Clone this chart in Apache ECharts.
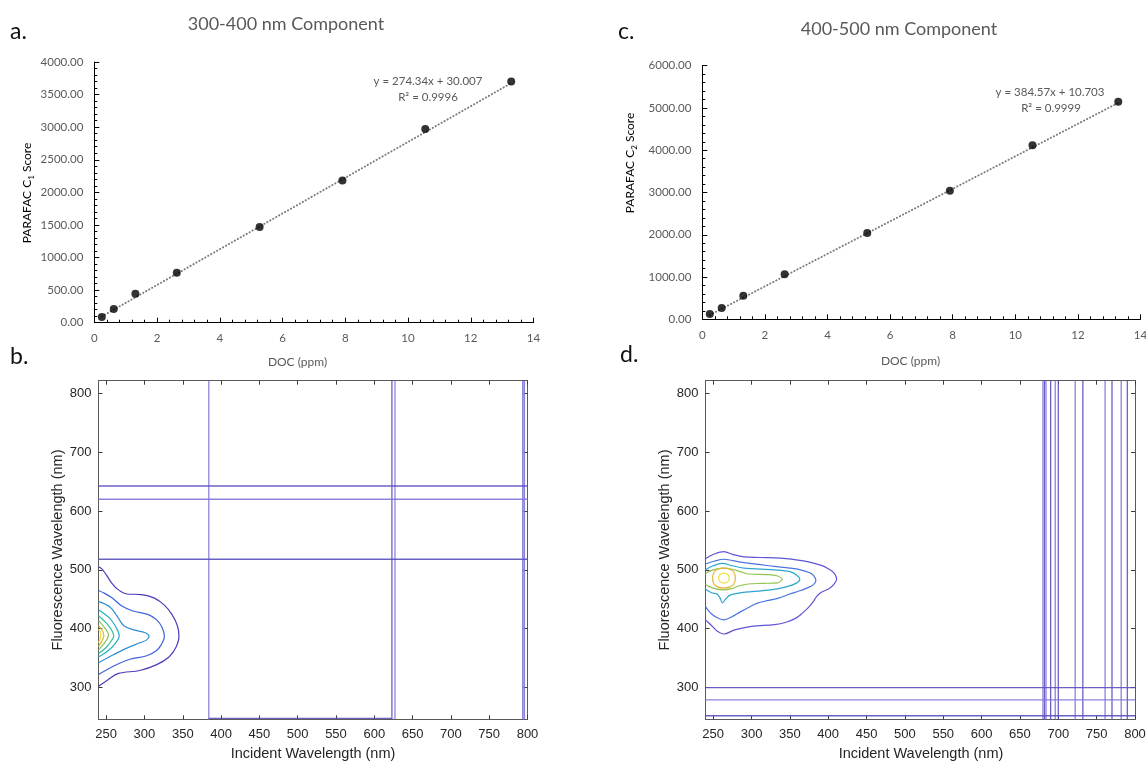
<!DOCTYPE html>
<html>
<head>
<meta charset="utf-8">
<script src="https://cdn.jsdelivr.net/npm/echarts@6/dist/echarts.min.js"></script>
<style>
  html, body { margin: 0; padding: 0; background: #fff; }
  #chart { width: 1146px; height: 762px; }
</style>
</head>
<body>
<div id="chart"></div>
<script>
// ---------- a / c : PARAFAC score vs DOC ----------
const docPpm   = [0.24, 0.62, 1.31, 2.63, 5.27, 7.91, 10.55, 13.29];
const scoreC1  = [87, 210, 445, 767, 1468, 2180, 2972, 3700];
const scoreC2  = [125, 267, 558, 1064, 2041, 3042, 4117, 5149];
const fitC1    = [274.34, 30.007];   // slope, intercept
const fitC2    = [384.57, 10.703];

// ---------- b / d : excitation-emission contour maps ----------
const exTicks = [250, 300, 350, 400, 450, 500, 550, 600, 650, 700, 750, 800];
const emTicks = [300, 400, 500, 600, 700, 800];
const exRange = [240, 800];
const emRange = [246, 821.5];

// 300-400 nm component, outer level first
const contourB = [
  [[240,302],[252,313],[266,324],[294,329],[316,339],[332,352],[341,368],[345,387],[343,405],[336,424],[326,440],[313,452],[296,458],[277,459],[266,466],[257,478],[250,492],[244,502],[240,505]],
  [[240,322],[264,339],[281,348],[303,354],[315,362],[322,373],[326,387],[323,402],[316,415],[305,424],[285,430],[270,439],[258,452],[248,460],[240,465]],
  [[240,342],[260,356],[277,367],[294,376],[303,381],[306,387],[301,393],[286,398],[273,405],[265,420],[255,437],[240,446]],
  [[240,352],[252,362],[262,375],[267,388],[263,402],[255,417],[240,432]],
  [[240,358],[250,368],[257,380],[260,388],[257,398],[250,410],[240,422]],
  [[240,364],[247,374],[252,384],[253,390],[249,400],[244,408],[240,414]],
  [[240,370],[244,378],[247,388],[245,397],[240,405]],
  [[240,376],[242,383],[243,390],[242,395],[240,399]]
];
const bVert  = [384, 623, 627, 794, 796];
const bHoriz = [642.5, 620, 518];
const bFloor = [[384, 247.5], [623, 247.5]];

// 400-500 nm component, outer level first
const contourD = [
  [[240,519],[250,526],[264,531],[276,526],[290,522],[310,521],[338,520],[358,517],[373,514],[390,508],[400,502],[408,494],[411,484],[407,475],[401,468],[391,462],[385,455],[380,445],[375,437],[366,426],[358,418],[345,411],[330,407],[300,404],[278,398],[264,391],[255,396],[249,404],[244,410],[240,415]],
  [[240,510],[252,515],[264,518],[286,513],[329,506],[350,503],[364,500],[376,495],[381,490],[384,482],[380,474],[372,469],[362,464],[350,459],[335,452],[322,448],[307,443],[296,436],[286,429],[274,420],[264,415],[255,419],[248,425],[243,432],[240,438]],
  [[240,500],[250,507],[262,511],[275,507],[290,503],[329,500],[350,497],[359,491],[363,484],[358,477],[345,471],[325,466],[300,463],[285,461],[272,457],[266,450],[262,444],[259,452],[255,459],[248,461],[240,467]],
  [[240,494],[250,500],[262,503],[275,501],[285,497],[296,493],[320,492],[333,490],[340,484],[334,478],[315,477],[296,476],[284,473],[274,468],[263,466],[252,468],[244,472],[240,475]],
  [[249,486],[251,496],[256,501],[264,503],[272,501],[277,496],[279,486],[277,476],[272,471],[264,469],[256,471],[251,476],[249,486]],
  [[257,486],[259,492],[264,494.5],[269,492],[271,486],[269,480],[264,477.5],[259,480],[257,486]]
];
const dVert  = [680, 682, 684, 690, 696, 700, 722, 732, 761, 770, 782, 790];
const dHoriz = [300, 279, 252];

// ---------- styles ----------
const excelFont = 'Lato, "Open Sans", sans-serif';
const matFont = '"Liberation Sans", Arial, sans-serif';
const grey = '#595959';
const ink = '#262626';
const parulaB = ['#4b3db8', '#3e62dc', '#2f8ed6', '#1daec8', '#2fbe9c', '#86c45a', '#d8be3a', '#f6dc36'];
const parulaD = ['#5f55d4', '#4a74de', '#2aa6cc', '#93c352', '#e6b63c', '#f1e13c'];
const artifact = ['#7f76da', '#5a50bf'];

const chart = echarts.init(document.getElementById('chart'));

const grid = [
  { left: 94.3, top: 62, width: 439.2, height: 260.7 },     // a
  { left: 98.5, top: 380.7, width: 429, height: 338.6 },    // b
  { left: 702.3, top: 65.7, width: 438.2, height: 253.6 },  // c
  { left: 705.5, top: 380.7, width: 429.5, height: 338.6 }  // d
].map(g => Object.assign({ outerBoundsMode: 'none', containLabel: false }, g));

function excelX(gridIndex) {
  return {
    type: 'value', gridIndex, min: 0, max: 14, interval: 2,
    axisLine: { show: true, onZero: false, lineStyle: { color: '#000', width: 1 } },
    axisTick: { show: true, inside: true, length: 5, lineStyle: { color: '#000' } },
    minorTick: { show: true, splitNumber: 5, length: 3, lineStyle: { color: '#000' } },
    splitLine: { show: false },
    axisLabel: { color: grey, fontFamily: excelFont, fontSize: 11.5, margin: 10 }
  };
}

function excelY(gridIndex, max, interval) {
  return {
    type: 'value', gridIndex, min: 0, max, interval,
    axisLine: { show: true, onZero: false, lineStyle: { color: '#000', width: 1 } },
    axisTick: { show: true, inside: true, length: 5, lineStyle: { color: '#000' } },
    minorTick: { show: true, splitNumber: 5, length: 3, lineStyle: { color: '#000' } },
    splitLine: { show: false },
    axisLabel: { formatter: v => v.toFixed(2), color: grey, fontFamily: excelFont, fontSize: 11.5, margin: 11 }
  };
}

function matAxis(kind, gridIndex, position, range, ticks) {
  const labelled = position === 'bottom' || position === 'left';
  return {
    type: 'value', gridIndex, position, min: range[0], max: range[1],
    axisLine: { show: true, onZero: false, lineStyle: { color: '#5a5a5a', width: 1 } },
    axisTick: { show: true, inside: true, length: 4, customValues: ticks, lineStyle: { color: '#3a3a3a' } },
    axisLabel: {
      show: labelled, customValues: ticks, color: ink, fontFamily: matFont, fontSize: 13,
      margin: kind === 'x' ? 9 : 7
    },
    splitLine: { show: false }
  };
}

const xAxis = [
  excelX(0),                                        // 0 a
  excelX(2),                                        // 1 c
  matAxis('x', 1, 'bottom', exRange, exTicks),      // 2 b
  matAxis('x', 1, 'top', exRange, exTicks),         // 3 b top
  matAxis('x', 3, 'bottom', exRange, exTicks),      // 4 d
  matAxis('x', 3, 'top', exRange, exTicks)          // 5 d top
];
const yAxis = [
  excelY(0, 4000, 500),
  excelY(2, 6000, 1000),
  matAxis('y', 1, 'left', emRange, emTicks),
  matAxis('y', 1, 'right', emRange, emTicks),
  matAxis('y', 3, 'left', emRange, emTicks),
  matAxis('y', 3, 'right', emRange, emTicks)
];

function scoreSeries(axis, scores, fit) {
  const first = docPpm[0], last = docPpm[docPpm.length - 1];
  return [
    {
      type: 'line', xAxisIndex: axis, yAxisIndex: axis, silent: true,
      data: [[first, fit[0] * first + fit[1]], [last, fit[0] * last + fit[1]]],
      showSymbol: false, z: 2,
      lineStyle: { color: '#7a7a7a', width: 1.9, type: [0.3, 3.1], cap: 'round' }
    },
    {
      type: 'scatter', xAxisIndex: axis, yAxisIndex: axis, z: 3,
      data: docPpm.map((x, i) => [x, scores[i]]),
      symbol: 'circle', symbolSize: 8, itemStyle: { color: '#000' }
    }
  ];
}

function contourSeries(axis, paths, palette) {
  return paths.map((p, i) => ({
    type: 'line', xAxisIndex: axis, yAxisIndex: axis, silent: true,
    data: p, showSymbol: false, smooth: 0.35, clip: true, z: 3,
    lineStyle: { color: palette[i], width: 1.2 }
  }));
}

function artifactSeries(axis, verts, horiz, extra) {
  const out = [];
  verts.forEach((x, i) => out.push({
    type: 'line', xAxisIndex: axis, yAxisIndex: axis, silent: true, showSymbol: false, clip: true,
    data: [[x, emRange[0]], [x, emRange[1]]],
    lineStyle: { color: artifact[i % 2], width: 1.3, opacity: 0.9 }
  }));
  horiz.forEach((y, i) => out.push({
    type: 'line', xAxisIndex: axis, yAxisIndex: axis, silent: true, showSymbol: false, clip: true,
    data: [[exRange[0], y], [exRange[1], y]],
    lineStyle: { color: artifact[(i + 1) % 2], width: 1.3, opacity: 0.9 }
  }));
  if (extra) out.push({
    type: 'line', xAxisIndex: axis, yAxisIndex: axis, silent: true, showSymbol: false, clip: true,
    data: extra, lineStyle: { color: artifact[1], width: 1.3, opacity: 0.9 }
  });
  return out;
}

function txt(x, y, text, style, rotation) {
  return {
    type: 'text', x, y, rotation: rotation || 0, silent: true,
    style: Object.assign({ text, align: 'center', verticalAlign: 'middle' }, style)
  };
}

const subRich = {
  a: { fontFamily: excelFont, fontSize: 12, color: grey, lineHeight: 16 },
  s: { fontFamily: excelFont, fontSize: 8, color: grey, lineHeight: 10, padding: [6, 0, 0, 0], verticalAlign: 'bottom' }
};
const eqStyle = { fontFamily: excelFont, fontSize: 11.5, fill: grey };
const titleStyle = { fontFamily: excelFont, fontSize: 18, fill: grey };
const letterStyle = { fontFamily: excelFont, fontSize: 23, fill: '#111', align: 'left' };
const docStyle = { fontFamily: excelFont, fontSize: 12, fill: grey };
const matTitle = { fontFamily: matFont, fontSize: 14.5, fill: ink };

const graphic = [
  txt(10, 32, 'a.', letterStyle),
  txt(10, 357, 'b.', letterStyle),
  txt(618, 32, 'c.', letterStyle),
  txt(620, 355, 'd.', letterStyle),

  txt(286, 24, '300-400 nm Component', titleStyle),
  txt(899, 29, '400-500 nm Component', titleStyle),

  txt(428, 81, 'y = 274.34x + 30.007', eqStyle),
  txt(428, 97.5, 'R² = 0.9996', eqStyle),
  txt(1050, 92, 'y = 384.57x + 10.703', eqStyle),
  txt(1051, 108.5, 'R² = 0.9999', eqStyle),

  txt(27.5, 193, '{a|PARAFAC C}{s|1}{a| Score}', { rich: subRich }, Math.PI / 2),
  txt(630.5, 163, '{a|PARAFAC C}{s|2}{a| Score}', { rich: subRich }, Math.PI / 2),
  txt(297.5, 362, 'DOC (ppm)', docStyle),
  txt(910.5, 361, 'DOC (ppm)', docStyle),

  txt(313, 754, 'Incident Wavelength (nm)', matTitle),
  txt(921, 754, 'Incident Wavelength (nm)', matTitle),
  txt(57.5, 550, 'Fluorescence Wavelength (nm)', matTitle, Math.PI / 2),
  txt(665, 550, 'Fluorescence Wavelength (nm)', matTitle, Math.PI / 2)
];

chart.setOption({
  animation: false,
  backgroundColor: '#fff',
  grid, xAxis, yAxis, graphic,
  series: [
    ...scoreSeries(0, scoreC1, fitC1),
    ...scoreSeries(1, scoreC2, fitC2),
    ...artifactSeries(2, bVert, bHoriz, bFloor),
    ...contourSeries(2, contourB, parulaB),
    ...artifactSeries(4, dVert, dHoriz, null),
    ...contourSeries(4, contourD, parulaD)
  ]
});
</script>
</body>
</html>
